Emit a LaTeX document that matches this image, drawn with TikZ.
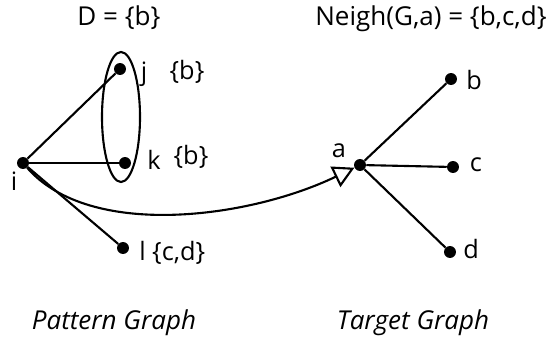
\documentclass[tikz,border=0pt]{standalone}
\usepackage{fontspec}
\setmainfont{Open Sans}
\usetikzlibrary{arrows.meta}
\tikzset{
  vtx/.style      = {circle, fill=black, inner sep=0pt, minimum size=8.5pt},
  edge/.style     = {line width=1.5pt},
  vlab/.style     = {font=\fontsize{18}{20}\selectfont, inner sep=0pt},
  gcaption/.style = {font=\fontsize{18.5}{20}\selectfont\itshape, inner sep=0pt},
  gtitle/.style   = {font=\fontsize{18.5}{20}\selectfont, inner sep=0pt},
}
\begin{document}
\begin{tikzpicture}[x=0.025cm, y=-0.025cm]
\useasboundingbox (0,0) rectangle (552,340);
% pattern graph
\node[gtitle] (dtitle) at (119,18) {D = \{b\}};
\node[vtx] (i) at (23,163) {};
\node[vtx] (j) at (120,69) {};
\node[vtx] (k) at (125,163) {};
\node[vtx] (l) at (123,248) {};
\draw[edge] (121,117) ellipse (19 and 65);
\draw[edge] (i) -- (j);
\draw[edge] (i) -- (k);
\draw[edge] (i) -- (l);
\node[vlab] (ilab) at (14,181) {i};
\node[vlab] (jlab) at (144,74) {j};
\node[vlab] (jdom) at (187,72) {\{b\}};
\node[vlab] (klab) at (154,160) {k};
\node[vlab] (kdom) at (191,157) {\{b\}};
\node[vlab, anchor=west] (llab) at (139,253) {l \{c,d\}};
\node[gcaption] (pcap) at (114,323) {Pattern Graph};
% target graph
\node[gtitle] (ntitle) at (431,19) {Neigh(G,a) = \{b,c,d\}};
\node[vtx] (a) at (360,165) {};
\node[vtx] (b) at (451,79) {};
\node[vtx] (c) at (453,167) {};
\node[vtx] (d) at (450,252) {};
\draw[edge] (a) -- (b);
\draw[edge] (a) -- (c);
\draw[edge] (a) -- (d);
\node[vlab] (alab) at (339,151) {a};
\node[vlab] (blab) at (474,80) {b};
\node[vlab] (clab) at (476,165) {c};
\node[vlab] (dlab) at (471,249) {d};
\node[gcaption] (tcap) at (413,323) {Target Graph};
% mapping
\draw[edge, -{Triangle[open, length=15pt, width=16pt, line width=1.5pt]}]
  (i) .. controls (90,240) and (250,218) .. (a);
\end{tikzpicture}
\end{document}
